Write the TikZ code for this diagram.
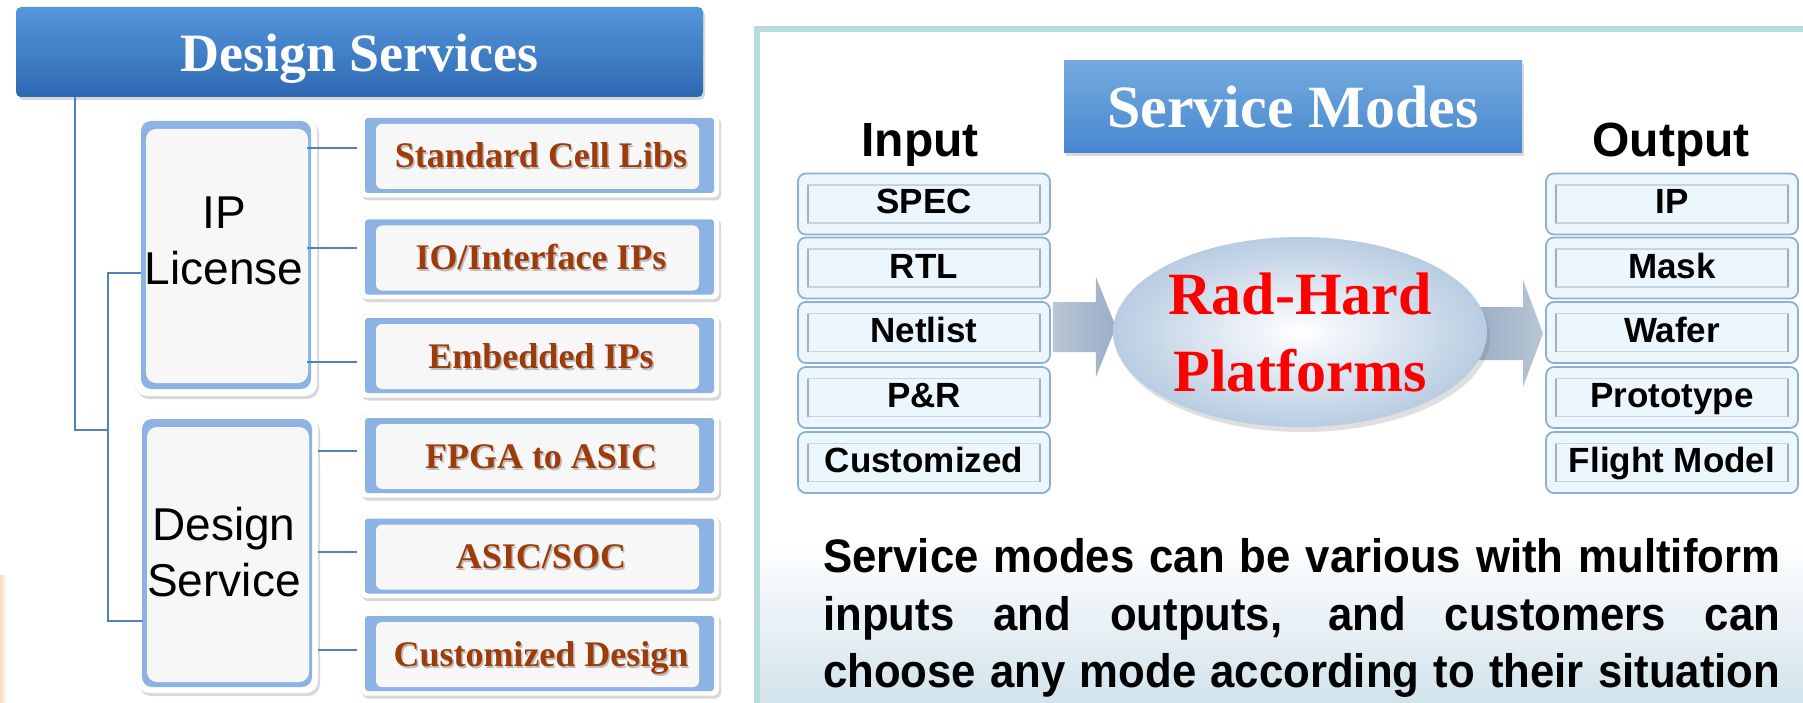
\documentclass[tikz,border=0pt]{standalone}
\usepackage{fontspec}
\setmainfont{Liberation Serif}
\newfontfamily\arialf{Liberation Sans}
\newfontfamily\narrowf[FakeStretch=0.93]{Liberation Sans}
\usetikzlibrary{shadows,calc,shapes.geometric}

\definecolor{linkblue}{HTML}{4F81BD}
\definecolor{framebl}{HTML}{8DB3E2}
\definecolor{paper}{HTML}{F7F7F7}
\definecolor{rust}{HTML}{9E3B0B}
\definecolor{barTop}{HTML}{5596DB}
\definecolor{barBot}{HTML}{2D69B2}
\definecolor{smTop}{HTML}{74AADF}
\definecolor{smBot}{HTML}{4887CF}
\definecolor{panelEdge}{HTML}{B6DCDD}
\definecolor{chipEdge}{HTML}{8BAFD6}
\definecolor{chipFill}{HTML}{ECF7FD}
\definecolor{chipIn}{HTML}{C9D4DE}
\definecolor{chipInDark}{HTML}{A3AFBB}
\definecolor{flowA}{HTML}{B9C5D6}
\definecolor{flowB}{HTML}{9CAEC6}
\definecolor{globeEdge}{HTML}{B8CCE2}
\definecolor{haze}{HTML}{D3E3EC}
\definecolor{peach}{HTML}{F2D8C6}

% service box of the design-services tree: name, centre y, label
\newcommand\svcbox[3]{%
  \node[svcouter] (#1) at (539.5,{#2+0.5}) {};
  \fill[framebl, rounded corners=3pt] (365,{#2-37.5}) rectangle (714,{#2+37.5});
  \fill[paper, rounded corners=6pt] (376,{#2-31.5}) rectangle (699,{#2+33.5});
  \node[svctext, text=black!45, opacity=.55] (#1s) at (542.5,{#2+14.5}) {#3};
  \node[svctext] (#1t) at (541,{#2+12.5}) {#3};
}
% input / output chip: name, centre x, centre y, label
\newcommand\iochip[4]{%
  \node[chip] (#1) at (#2,#3) {};
  \draw[chipIn, line width=1.6pt] ({#2-116},{#3-19}) rectangle ({#2+116},{#3+19});
  \draw[chipInDark, line width=1.6pt] ({#2-116},{#3-19}) -- ({#2-116},{#3+19});
  \draw[chipInDark, line width=2.6pt] ({#2+116},{#3-19}) -- ({#2+116},{#3+19});
  \node[chiptext] (#1t) at (#2,{#3+10}) {#4};
}

\begin{document}
\begin{tikzpicture}[x=1pt,y=-1pt,
  conn/.style={draw=linkblue,line width=1.5pt},
  softshadow/.style={drop shadow={opacity=0.3,shadow xshift=2pt,shadow yshift=-3pt}},
  dsbar/.style={rectangle,rounded corners=5pt,top color=barTop,bottom color=barBot,
    softshadow,minimum width=687pt,minimum height=90pt,inner sep=0pt,text=white,
    text height=40pt,text depth=0pt,
    font=\fontsize{54}{60}\selectfont\bfseries},
  grpouter/.style={rectangle,rounded corners=12pt,fill=white,draw=black!6,softshadow,inner sep=0pt},
  grouptext/.style={font=\arialf\fontsize{46}{56}\selectfont,align=center,inner sep=0pt},
  svcouter/.style={rectangle,rounded corners=6pt,fill=white,draw=black!6,softshadow,
    minimum width=359pt,minimum height=83pt,inner sep=0pt},
  svctext/.style={font=\fontsize{36}{40}\selectfont\bfseries,text=rust,inner sep=0pt,anchor=base},
  modebar/.style={rectangle,top color=smTop,bottom color=smBot,softshadow,
    minimum width=458pt,minimum height=92pt,inner sep=0pt,text=white,
    font=\fontsize{60}{66}\selectfont\bfseries},
  iolabel/.style={font=\arialf\bfseries\fontsize{48}{54}\selectfont,inner sep=0pt,anchor=base},
  chip/.style={rectangle,rounded corners=8pt,draw=chipEdge,line width=1.8pt,fill=chipFill,
    minimum width=252pt,minimum height=61pt,inner sep=0pt},
  chiptext/.style={font=\arialf\bfseries\fontsize{35}{40}\selectfont,inner sep=0pt,anchor=base},
  globe/.style={ellipse,minimum width=374pt,minimum height=190pt,inner sep=0pt,
    inner color=white,outer color=globeEdge,
    drop shadow={opacity=.25,shadow xshift=3pt,shadow yshift=-5pt},
    text=red,align=center,font=\fontsize{60}{77}\selectfont\bfseries},
  bodytext/.style={font=\narrowf\bfseries\fontsize{47}{57}\selectfont,inner sep=0pt,anchor=base west}
]
\useasboundingbox (0,0) rectangle (1803,703);
\fill[white] (0,0) rectangle (1803,703);

% ---------------- background tints ----------------
\shade[left color=peach, right color=white] (0,575) rectangle (7,703);
\shade[top color=white, bottom color=haze] (760,540) rectangle (1803,703);
\draw[panelEdge, line width=6pt] (757,703) -- (757,29) -- (1803,29);

% ---------------- design services tree ----------------
\node[dsbar] (ds) at (359.5,52) {Design Services};

\node[grpouter, minimum width=182pt, minimum height=278pt] (ipl) at (226,257) {};
\fill[framebl, rounded corners=10pt] (141,121) rectangle (311,389);
\fill[paper, rounded corners=10pt] (146,129) rectangle (308,383);
\node[grouptext] (iplt) at (224,241) {IP\\License};

\node[grpouter, minimum width=181pt, minimum height=277pt] (dsv) at (227.5,554.5) {};
\fill[framebl, rounded corners=10pt] (142,419) rectangle (312,687);
\fill[paper, rounded corners=10pt] (147,427) rectangle (309,682);
\node[grouptext] (dsvt) at (224,552) {Design\\Service};

\svcbox{c1}{155.5}{Standard Cell Libs}
\svcbox{c2}{257}{IO/Interface IPs}
\svcbox{c3}{355.5}{Embedded IPs}
\svcbox{c4}{455.5}{FPGA to ASIC}
\svcbox{c5}{556}{ASIC/SOC}
\svcbox{c6}{653.5}{Customized Design}

% tree connectors
\coordinate (root) at (75,430);
\coordinate (jm) at (108,430);
\coordinate (ja) at (108,273);
\coordinate (jb) at (108,621);
\draw[conn] (ds.south -| root) -- (root) -- (jm);
\draw[conn] ([xshift=6pt]ja -| ipl.west) -- (ja) -- (jb) -- ([xshift=6pt]jb -| dsv.west);
\draw[conn] ([yshift=8pt,xshift=-10pt]c1.west -| ipl.east) -- ([yshift=8pt,xshift=-3pt]c1.west);
\draw[conn] ([yshift=9.5pt,xshift=-10pt]c2.west -| ipl.east) -- ([yshift=9.5pt,xshift=-3pt]c2.west);
\draw[conn] ([yshift=-6pt,xshift=-10pt]c3.west -| ipl.east) -- ([yshift=-6pt,xshift=-3pt]c3.west);
\draw[conn] ([yshift=5pt]c4.west -| dsv.east) -- ([yshift=5pt,xshift=-3pt]c4.west);
\draw[conn] ([yshift=4.5pt]c5.west -| dsv.east) -- ([yshift=4.5pt,xshift=-3pt]c5.west);
\draw[conn] ([yshift=4pt]c6.west -| dsv.east) -- ([yshift=4pt,xshift=-3pt]c6.west);

% ---------------- service modes ----------------
\node[modebar] (sm) at (1293,107) {Service Modes};
\node[iolabel] (inlab) at (920,157) {Input};
\node[iolabel] (outlab) at (1671,157) {Output};

\iochip{in1}{924}{204}{SPEC}
\iochip{in2}{924}{268}{RTL}
\iochip{in3}{924}{332.5}{Netlist}
\iochip{in4}{924}{397.5}{P\&R}
\iochip{in5}{924}{462.5}{Customized}

\iochip{out1}{1672}{204}{IP}
\iochip{out2}{1672}{268}{Mask}
\iochip{out3}{1672}{332.5}{Wafer}
\iochip{out4}{1672}{397.5}{Prototype}
\iochip{out5}{1672}{462.5}{Flight Model}

% block arrows into and out of the platform
\coordinate (rh0) at (1300,332);
\path (in3.east) ++(2,-5.5) coordinate (la);
\shade[left color=flowA, right color=flowB]
  ([yshift=25pt]la) -- ++(43,0) -- ++(0,-25) -- ++(20,50) -- ++(-20,50) -- ++(0,-25) -- ++(-43,0) -- cycle;
\path (rh0) ++(178,1) coordinate (ra);
\shade[left color=flowB, right color=flowA]
  ([yshift=26pt]ra) -- ++(45,0) -- ++(0,-27) -- ++(20,53.5) -- ++(-20,53.5) -- ++(0,-27) -- ++(-45,0) -- cycle;

\node[globe] (rh) at (rh0) {Rad-Hard\\Platforms};

% ---------------- caption ----------------
\node[bodytext] (l1) at (823,572) {\makebox[957pt][s]{Service modes can be various with multiform}};
\node[bodytext] (l2) at (823,630) {\makebox[957pt][s]{inputs and outputs, and customers can}};
\node[bodytext] (l3) at (823,687) {\makebox[957pt][s]{choose any mode according to their situation}};
\end{tikzpicture}
\end{document}
